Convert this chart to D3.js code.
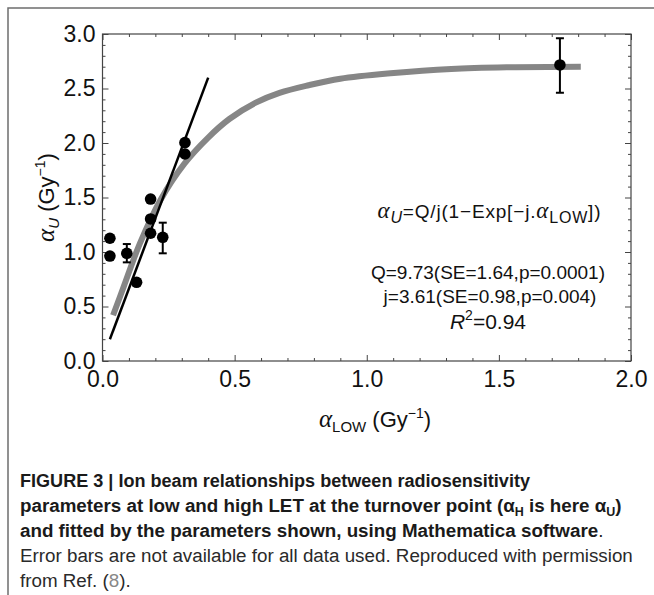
<!DOCTYPE html>
<html>
<head>
<meta charset="utf-8">
<script src="https://cdn.jsdelivr.net/npm/d3@7/dist/d3.min.js"></script>
<style>
    body { margin: 0; background: #fff; }
    svg { display: block; font-family: "Liberation Sans", Arial, sans-serif; }
</style>
</head>
<body>
<svg width="654" height="595"></svg>
<script>
// measured data points (alpha_LOW, alpha_U)
var pointX = [0.028, 0.028, 0.092, 0.129, 0.182, 0.182, 0.182, 0.228, 0.312, 0.312, 1.731];
var pointY = [1.126, 0.963, 0.988, 0.722, 1.486, 1.303, 1.172, 1.135, 2.003, 1.899, 2.716];
var errLow = [null, null, 0.905, null, null, null, null, 0.988, null, null, 2.461];
var errHigh = [null, null, 1.073, null, null, null, null, 1.269, null, null, 2.961];

// grey fitted curve
var fitX = [0.04, 0.08, 0.14, 0.22, 0.31, 0.40, 0.48, 0.58, 0.67, 0.78, 0.90, 1.09, 1.32, 1.54, 1.81];
var fitY = [0.42, 0.68, 1.07, 1.48, 1.81, 2.05, 2.22, 2.37, 2.46, 2.53, 2.59, 2.64, 2.68, 2.695, 2.70];

// black straight line
var lineX = [0.028, 0.40];
var lineY = [0.20, 2.60];

var xTicks = [0, 0.5, 1.0, 1.5, 2.0];
var yTicks = [0, 0.5, 1.0, 1.5, 2.0, 2.5, 3.0];

window.onload = main;

function main() {
    var svg = d3.select("svg");

    var left = 102.5, right = 631, top = 34, bottom = 361;

    var x = d3.scaleLinear().domain([0, 2]).range([left, right]);
    var y = d3.scaleLinear().domain([0, 3]).range([bottom, top]);

    // outer figure frame (only left and top edges visible)
    svg.append("path")
        .attr("d", "M8,595 V8 H654")
        .attr("fill", "none")
        .attr("stroke", "#6e6e6e")
        .attr("stroke-width", 1.5);

    var minorX = d3.range(0, 2.001, 0.1).filter(function (d) {
        return Math.abs(d * 2 - Math.round(d * 2)) > 1e-6;
    });
    var minorY = d3.range(0, 3.001, 0.1).filter(function (d) {
        return Math.abs(d * 2 - Math.round(d * 2)) > 1e-6;
    });

    var fmt = d3.format(".1f");

    function styleAxis(g) {
        g.select(".domain").remove();
        g.selectAll("line").attr("stroke", "#444");
        g.selectAll("text")
            .attr("font-size", 23)
            .attr("fill", "#111")
            .attr("font-family", "'Liberation Sans', Arial, sans-serif");
    }

    // bottom axis with labels
    svg.append("g")
        .attr("transform", "translate(0," + bottom + ")")
        .call(d3.axisBottom(x).tickValues(xTicks).tickFormat(fmt).tickSize(-6).tickPadding(10))
        .call(styleAxis);
    svg.append("g")
        .attr("transform", "translate(0," + bottom + ")")
        .call(d3.axisBottom(x).tickValues(minorX).tickFormat("").tickSize(-3))
        .call(styleAxis);
    // top axis
    svg.append("g")
        .attr("transform", "translate(0," + top + ")")
        .call(d3.axisTop(x).tickValues(xTicks).tickFormat("").tickSize(-6))
        .call(styleAxis);
    svg.append("g")
        .attr("transform", "translate(0," + top + ")")
        .call(d3.axisTop(x).tickValues(minorX).tickFormat("").tickSize(-3))
        .call(styleAxis);

    // left axis with labels
    svg.append("g")
        .attr("transform", "translate(" + left + ",0)")
        .call(d3.axisLeft(y).tickValues(yTicks).tickFormat(fmt).tickSize(-6).tickPadding(7))
        .call(styleAxis);
    svg.append("g")
        .attr("transform", "translate(" + left + ",0)")
        .call(d3.axisLeft(y).tickValues(minorY).tickFormat("").tickSize(-3))
        .call(styleAxis);
    // right axis
    svg.append("g")
        .attr("transform", "translate(" + right + ",0)")
        .call(d3.axisRight(y).tickValues(yTicks).tickFormat("").tickSize(-6))
        .call(styleAxis);
    svg.append("g")
        .attr("transform", "translate(" + right + ",0)")
        .call(d3.axisRight(y).tickValues(minorY).tickFormat("").tickSize(-3))
        .call(styleAxis);

    // plot frame
    svg.append("rect")
        .attr("x", left)
        .attr("y", top)
        .attr("width", right - left)
        .attr("height", bottom - top)
        .attr("fill", "none")
        .attr("stroke", "#444")
        .attr("stroke-width", 1.2);

    // fitted curve
    var fit = fitX.map(function (d, i) { return [d, fitY[i]]; });
    svg.append("path")
        .datum(fit)
        .attr("d", d3.line()
            .x(function (d) { return x(d[0]); })
            .y(function (d) { return y(d[1]); })
            .curve(d3.curveCatmullRom.alpha(0.5)))
        .attr("fill", "none")
        .attr("stroke", "#868686")
        .attr("stroke-width", 6);

    // straight line
    var straight = lineX.map(function (d, i) { return [d, lineY[i]]; });
    svg.append("path")
        .datum(straight)
        .attr("d", d3.line()
            .x(function (d) { return x(d[0]); })
            .y(function (d) { return y(d[1]); }))
        .attr("fill", "none")
        .attr("stroke", "#000")
        .attr("stroke-width", 2.5);

    // points and error bars
    var pts = pointX.map(function (d, i) {
        return { x: d, y: pointY[i], lo: errLow[i], hi: errHigh[i] };
    });

    var errs = svg.append("g").selectAll("g")
        .data(pts.filter(function (d) { return d.lo !== null; }))
        .enter()
        .append("g")
        .attr("stroke", "#000")
        .attr("stroke-width", 2);
    errs.append("line")
        .attr("x1", function (d) { return x(d.x); })
        .attr("x2", function (d) { return x(d.x); })
        .attr("y1", function (d) { return y(d.lo); })
        .attr("y2", function (d) { return y(d.hi); });
    errs.append("line")
        .attr("x1", function (d) { return x(d.x) - 4; })
        .attr("x2", function (d) { return x(d.x) + 4; })
        .attr("y1", function (d) { return y(d.lo); })
        .attr("y2", function (d) { return y(d.lo); });
    errs.append("line")
        .attr("x1", function (d) { return x(d.x) - 4; })
        .attr("x2", function (d) { return x(d.x) + 4; })
        .attr("y1", function (d) { return y(d.hi); })
        .attr("y2", function (d) { return y(d.hi); });

    svg.append("g").selectAll("circle")
        .data(pts)
        .enter()
        .append("circle")
        .attr("cx", function (d) { return x(d.x); })
        .attr("cy", function (d) { return y(d.y); })
        .attr("r", 5.8)
        .attr("fill", "#000");

    // annotations
    var serif = "'Liberation Serif', 'Times New Roman', serif";
    var ann = svg.append("g")
        .attr("font-size", 19)
        .attr("fill", "#111")
        .attr("text-anchor", "middle");

    var f = ann.append("text").attr("x", 489).attr("y", 218)
        .attr("textLength", 223).attr("lengthAdjust", "spacing");
    f.append("tspan").attr("font-family", serif).attr("font-style", "italic").attr("font-size", 23).text("α");
    f.append("tspan").attr("font-style", "italic").attr("font-size", 16).attr("dy", 5).text("U");
    f.append("tspan").attr("dy", -5).text("=Q/j(1\u2212Exp[\u2212j.");
    f.append("tspan").attr("font-family", serif).attr("font-style", "italic").attr("font-size", 23).text("α");
    f.append("tspan").attr("font-size", 16).attr("dy", 5).text("LOW");
    f.append("tspan").attr("dy", -5).text("])");

    ann.append("text").attr("x", 488).attr("y", 279).text("Q=9.73(SE=1.64,p=0.0001)");
    ann.append("text").attr("x", 490).attr("y", 303).text("j=3.61(SE=0.98,p=0.004)");
    var r2 = ann.append("text").attr("x", 488).attr("y", 329).attr("font-size", 21);
    r2.append("tspan").attr("font-style", "italic").text("R");
    r2.append("tspan").attr("font-size", 14).attr("dy", -9).text("2");
    r2.append("tspan").attr("dy", 9).text("=0.94");

    // axis titles
    var yl = svg.append("text")
        .attr("transform", "translate(54," + ((top + bottom) / 2) + ") rotate(-90)")
        .attr("text-anchor", "middle")
        .attr("font-size", 22)
        .attr("fill", "#111");
    yl.append("tspan").attr("font-family", serif).attr("font-style", "italic").attr("font-size", 25).text("α");
    yl.append("tspan").attr("font-style", "italic").attr("font-size", 15).attr("dy", 5).text("U");
    yl.append("tspan").attr("dy", -5).text(" (Gy");
    yl.append("tspan").attr("font-size", 14).attr("dy", -9).text("\u22121");
    yl.append("tspan").attr("dy", 9).text(")");

    var xl = svg.append("text")
        .attr("x", 375)
        .attr("y", 427)
        .attr("text-anchor", "middle")
        .attr("font-size", 22)
        .attr("fill", "#111");
    xl.append("tspan").attr("font-family", serif).attr("font-style", "italic").attr("font-size", 25).text("α");
    xl.append("tspan").attr("font-size", 15).attr("dy", 5).text("LOW");
    xl.append("tspan").attr("dy", -5).text(" (Gy");
    xl.append("tspan").attr("font-size", 14).attr("dy", -9).text("\u22121");
    xl.append("tspan").attr("dy", 9).text(")");

    // caption
    var cap = svg.append("g").attr("font-size", 18.8).attr("fill", "#1a1a1a");
    cap.append("text").attr("x", 20).attr("y", 487).attr("font-weight", "bold")
        .attr("textLength", 510).attr("lengthAdjust", "spacingAndGlyphs")
        .text("FIGURE 3 | Ion beam relationships between radiosensitivity");
    var c2 = cap.append("text").attr("x", 20).attr("y", 512).attr("font-weight", "bold");
    c2.append("tspan").text("parameters at low and high LET at the turnover point (α");
    c2.append("tspan").attr("font-size", 12.5).attr("dy", 4).text("H");
    c2.append("tspan").attr("dy", -4).text(" is here α");
    c2.append("tspan").attr("font-size", 12.5).attr("dy", 4).text("U");
    c2.append("tspan").attr("dy", -4).text(")");
    var c3 = cap.append("text").attr("x", 20).attr("y", 537);
    c3.append("tspan").attr("font-weight", "bold").text("and fitted by the parameters shown, using Mathematica software");
    c3.append("tspan").text(".");
    cap.append("text").attr("x", 20).attr("y", 562).attr("fill", "#2a2a2a")
        .text("Error bars are not available for all data used. Reproduced with permission");
    var c5 = cap.append("text").attr("x", 20).attr("y", 587).attr("fill", "#2a2a2a");
    c5.append("tspan").text("from Ref. (");
    c5.append("tspan").attr("fill", "#888").text("8");
    c5.append("tspan").text(").");
}
</script>
</body>
</html>
